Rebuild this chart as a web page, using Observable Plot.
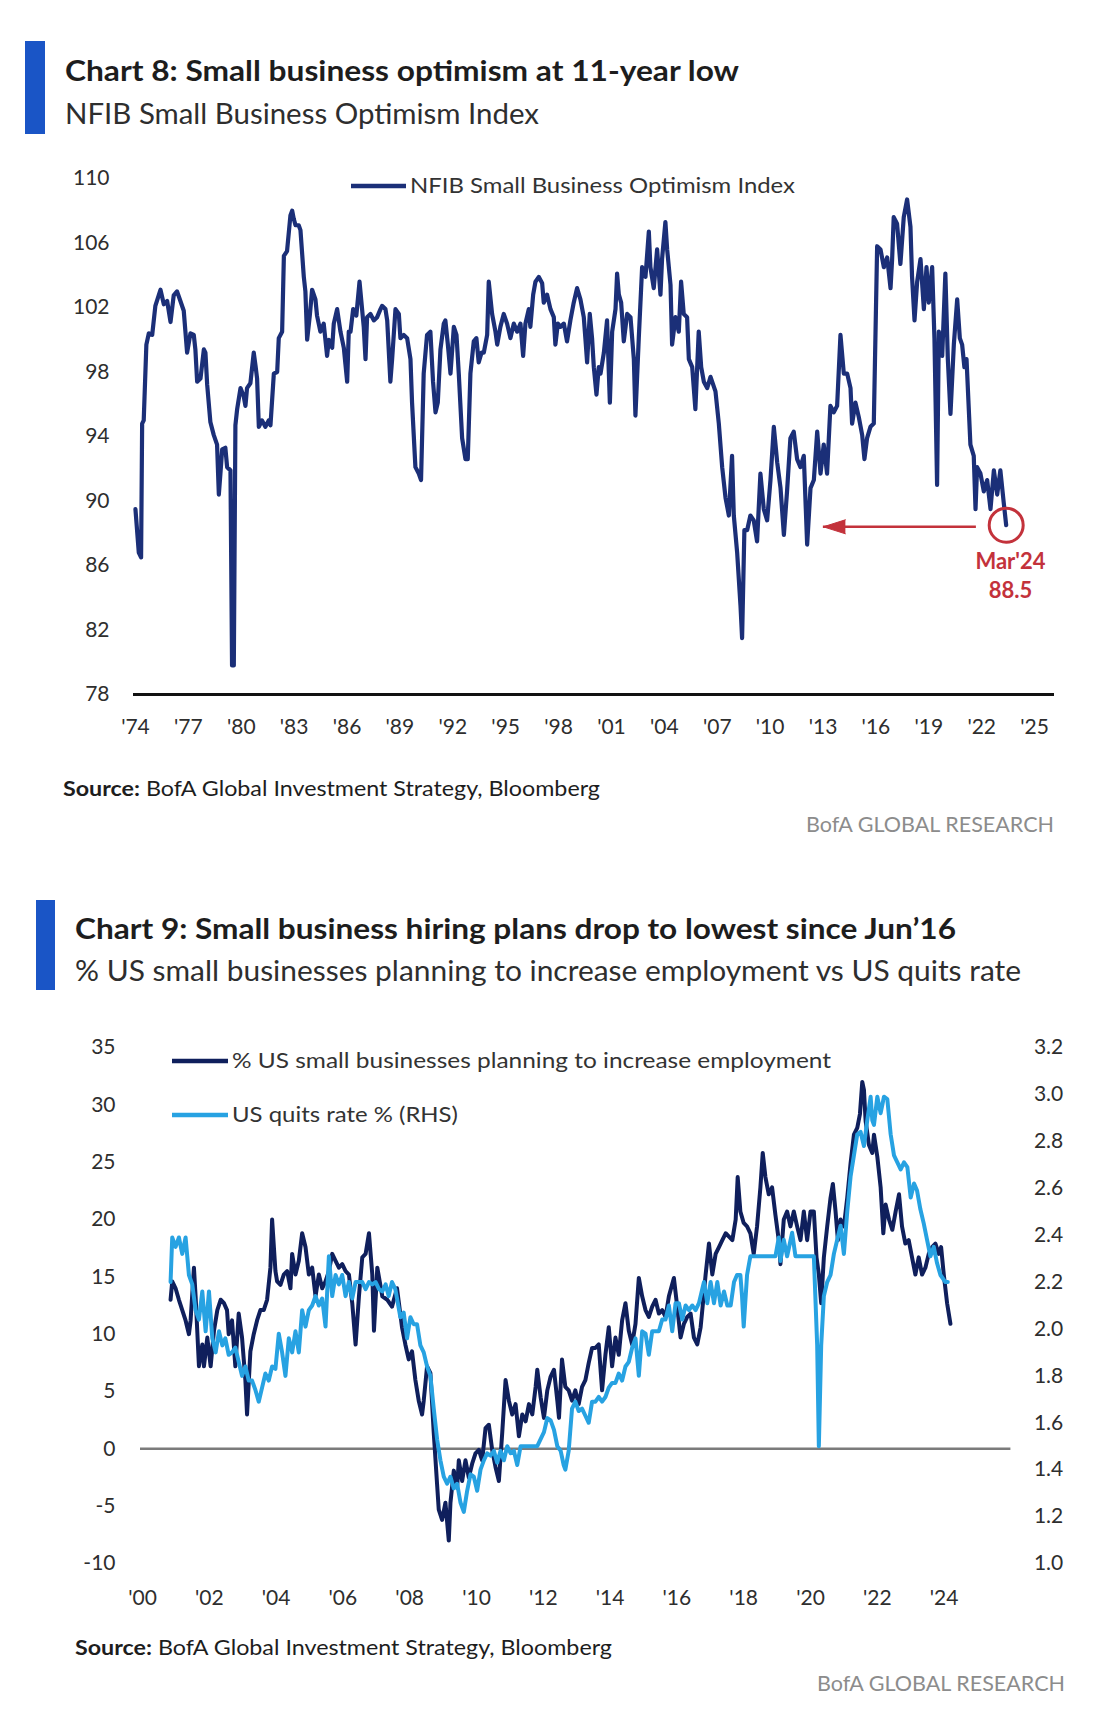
<!DOCTYPE html>
<html><head><meta charset="utf-8">
<script src="https://cdn.jsdelivr.net/npm/d3@7"></script>
<script src="https://cdn.jsdelivr.net/npm/@observablehq/plot@0.6"></script>
<style>
html,body{margin:0;padding:0;background:#fff;}
#page{position:relative;width:1100px;height:1709px;overflow:hidden;font-family:Lato,"Open Sans",sans-serif;background:#fff;}
</style></head>
<body><div id="page"></div>
<script>
// ---------- Chart 8 data: NFIB Small Business Optimism Index [decimal year, index] ----------
const nfibSeries = [
[1974.77,89.5],[1974.96,86.8],[1975.09,86.5],[1975.15,94.8],[1975.24,95.0],[1975.39,99.7],[1975.53,100.4],[1975.72,100.3],[1975.90,102.1],[1976.19,103.1],[1976.38,102.2],[1976.57,102.4],[1976.76,101.1],[1976.94,102.75],[1977.13,103.0],[1977.32,102.4],[1977.51,101.8],[1977.70,99.2],[1977.89,100.4],[1978.08,100.3],[1978.17,99.4],[1978.27,97.4],[1978.46,97.6],[1978.65,99.4],[1978.74,99.2],[1978.84,97.2],[1979.02,94.9],[1979.21,94.1],[1979.40,93.5],[1979.50,90.4],[1979.59,91.7],[1979.69,93.2],[1979.87,93.3],[1979.97,92.1],[1980.16,91.9],[1980.25,79.8],[1980.35,79.8],[1980.44,94.7],[1980.54,95.7],[1980.73,97.0],[1980.91,96.5],[1981.01,95.9],[1981.10,97.0],[1981.29,97.3],[1981.48,99.2],[1981.58,98.4],[1981.67,97.6],[1981.77,94.6],[1981.95,95.0],[1982.14,94.6],[1982.33,95.0],[1982.43,94.7],[1982.62,97.9],[1982.81,98.0],[1982.90,100.1],[1983.09,100.5],[1983.19,105.2],[1983.37,105.5],[1983.56,107.7],[1983.66,108.0],[1983.75,107.5],[1983.85,107.1],[1984.03,107.1],[1984.13,106.8],[1984.32,103.9],[1984.41,103.0],[1984.51,100.0],[1984.66,101.5],[1984.79,103.1],[1984.98,102.5],[1985.07,101.5],[1985.26,100.5],[1985.45,101.0],[1985.64,99.0],[1985.74,100.0],[1985.93,99.5],[1986.02,101.0],[1986.21,101.9],[1986.40,100.5],[1986.59,99.5],[1986.68,98.5],[1986.78,97.4],[1986.87,100.5],
[1986.97,100.5],[1987.12,101.9],[1987.30,101.5],[1987.48,103.6],[1987.72,100.8],[1987.82,98.8],[1987.91,101.4],[1988.10,101.6],[1988.29,101.2],[1988.48,101.4],[1988.67,101.9],[1988.76,102.1],[1988.95,101.9],[1989.05,101.2],[1989.23,97.4],[1989.33,98.8],[1989.52,101.9],[1989.71,101.6],[1989.80,100.1],[1989.99,100.3],[1990.18,100.1],[1990.37,98.8],[1990.46,96.1],[1990.65,92.1],[1990.84,91.7],[1990.97,91.3],[1991.12,97.9],[1991.31,100.3],[1991.50,100.5],[1991.65,97.4],[1991.79,95.5],[1991.92,96.1],[1992.07,99.4],[1992.26,101.0],[1992.35,101.2],[1992.49,99.7],[1992.64,97.9],[1992.83,100.8],[1992.98,100.3],[1993.11,97.9],[1993.30,93.9],[1993.49,92.6],[1993.62,92.6],[1993.77,97.9],[1993.96,99.9],[1994.11,100.1],[1994.24,98.6],[1994.40,99.2],[1994.53,99.2],[1994.72,100.3],[1994.81,103.6],[1995.00,101.6],[1995.19,100.5],[1995.29,99.7],[1995.47,100.8],[1995.66,101.6],[1995.85,101.0],[1996.04,100.1],[1996.23,101.0],[1996.42,100.5],[1996.61,101.0],[1996.76,99.0],[1996.89,101.0],[1997.08,101.9],[1997.17,100.8],[1997.33,102.8],[1997.46,103.6],[1997.65,103.9],[1997.84,103.5],[1997.93,102.3],[1998.12,102.8],[1998.31,101.9],[1998.50,101.4],[1998.59,99.7],[1998.73,101.0],[1998.88,100.8],[1999.07,101.0],[1999.25,99.9],[1999.44,101.2],[1999.63,102.3],[1999.82,103.2],[2000.01,102.5],[2000.20,101.4],[2000.29,100.1],[2000.39,98.6],[2000.54,101.6],[2000.67,100.1],[2000.77,98.3],[2000.92,96.6],[2001.05,98.3],
[2001.15,97.9],[2001.34,99.2],[2001.52,101.2],[2001.68,96.1],[2001.81,100.5],[2002.00,101.9],[2002.09,104.1],[2002.19,102.8],[2002.32,102.3],[2002.47,99.9],[2002.66,101.6],[2002.85,101.4],[2003.04,98.8],[2003.13,95.3],[2003.32,100.1],[2003.51,104.5],[2003.70,103.9],[2003.89,106.7],[2003.98,104.5],[2004.17,103.2],[2004.36,105.6],[2004.55,102.8],[2004.64,105.0],[2004.83,107.3],[2004.93,105.6],[2005.12,103.4],[2005.21,99.7],[2005.40,101.4],[2005.59,100.5],[2005.72,103.6],[2005.87,101.6],[2006.06,101.4],[2006.16,98.8],[2006.35,98.3],[2006.53,95.7],[2006.72,100.5],[2006.86,98.3],[2007.01,97.4],[2007.20,97.0],[2007.39,97.7],[2007.67,96.8],[2007.86,94.8],[2008.05,92.1],[2008.24,90.2],[2008.43,89.1],[2008.61,92.8],[2008.71,89.1],[2008.90,86.8],[2009.09,83.5],[2009.18,81.5],[2009.31,88.2],[2009.47,88.2],[2009.65,89.1],[2009.84,88.8],[2010.03,87.5],[2010.22,91.7],[2010.41,89.5],[2010.60,88.8],[2010.79,91.3],[2010.98,94.6],[2011.17,92.4],[2011.36,90.8],[2011.55,87.9],[2011.73,90.6],[2011.92,93.9],[2012.11,94.3],[2012.30,92.6],[2012.49,92.1],[2012.68,92.8],[2012.87,87.3],[2013.06,90.8],[2013.25,91.3],[2013.44,94.3],[2013.63,91.7],[2013.81,93.5],[2014.00,91.7],[2014.19,95.9],[2014.38,95.5],[2014.57,95.9],[2014.76,100.3],[2014.95,97.9],
[2015.14,97.9],[2015.33,97.0],[2015.42,94.8],[2015.61,96.1],[2015.80,95.2],[2015.99,94.1],[2016.12,92.6],[2016.27,93.9],[2016.46,94.6],[2016.65,94.8],[2016.84,105.8],[2017.03,105.6],[2017.22,104.5],[2017.41,105.1],[2017.60,103.2],[2017.69,105.0],[2017.78,107.6],[2017.97,107.2],[2018.16,104.7],[2018.35,107.6],[2018.54,108.7],[2018.73,107.0],[2018.82,103.9],[2018.96,101.2],[2019.11,103.6],[2019.30,105.0],[2019.49,101.9],[2019.64,104.5],[2019.77,102.3],[2019.96,104.5],[2020.09,100.1],[2020.24,91.0],[2020.34,100.5],[2020.53,99.0],[2020.71,104.1],[2020.85,98.8],[2021.00,95.4],[2021.19,99.7],[2021.38,102.5],[2021.53,100.1],[2021.66,99.7],[2021.79,98.3],[2021.91,98.8],[2022.13,93.5],[2022.32,92.8],[2022.42,89.5],[2022.51,92.1],[2022.70,91.7],[2022.89,90.6],[2023.08,91.3],[2023.27,89.5],[2023.46,91.9],[2023.65,90.4],[2023.83,91.9],[2024.02,89.9],[2024.16,88.5]
];
const nfibYTicks = [78, 82, 86, 90, 94, 98, 102, 106, 110];
const nfibXTicks = [1974, 1977, 1980, 1983, 1986, 1989, 1992, 1995, 1998, 2001, 2004, 2007, 2010, 2013, 2016, 2019, 2022, 2025];
const nfibXDomain = [1974.66, 2026.9];
const nfibYDomain = [78, 110];
// annotation: latest reading
const nfibLatest = [{date: 2024.16, value: 88.5, label: "Mar'24", labelDate: 2024.40, labelValue: 86.2, valueLabelValue: 84.4}];
const nfibArrow = [{from: 2022.47, to: 2013.79, value: 88.4}];

// ---------- Chart 9 data ----------
const hiringSeries = [
[2000.84,13.0],[2000.89,14.6],[2000.99,14.0],[2001.09,13.0],[2001.19,12.1],[2001.29,11.2],[2001.39,10.0],[2001.44,11.2],[2001.54,15.8],[2001.59,13.3],[2001.69,7.2],[2001.79,9.1],[2001.84,7.2],[2001.94,9.7],[2002.04,7.2],[2002.14,10.3],[2002.24,12.1],[2002.34,13.0],[2002.44,12.7],[2002.53,12.1],[2002.58,10.0],[2002.68,11.2],[2002.78,7.2],[2002.88,11.8],[2002.98,9.7],[2003.08,6.0],[2003.13,3.0],[2003.23,8.5],[2003.33,10.0],[2003.43,11.2],[2003.53,12.1],[2003.63,12.1],[2003.73,13.0],[2003.83,15.8],[2003.88,20.0],[2003.98,15.5],[2004.03,14.6],[2004.13,14.3],[2004.23,15.2],[2004.33,15.5],[2004.43,14.0],[2004.48,17.0],[2004.58,15.2],[2004.68,16.4],[2004.78,18.8],[2004.88,17.6],[2004.98,15.2],[2005.08,15.8],[2005.18,13.3],[2005.28,15.2],[2005.38,14.0],[2005.48,14.6],[2005.58,15.5],[2005.68,17.0],[2005.78,16.4],[2005.88,15.8],[2005.98,16.1],[2006.08,15.5],[2006.18,15.2],[2006.28,12.7],[2006.38,9.1],[2006.48,13.3],[2006.58,16.7],[2006.68,17.0],[2006.78,18.8],[2006.88,15.2],[2006.93,10.3],[2007.03,15.8],[2007.18,13.3],[2007.33,13.0],[2007.47,12.4],[2007.62,14.0],
[2007.77,10.6],[2007.87,9.1],[2007.97,7.8],[2008.07,8.5],[2008.17,6.0],[2008.27,4.2],[2008.37,3.0],[2008.42,4.2],[2008.52,7.2],[2008.62,6.6],[2008.72,1.4],[2008.82,-3.1],[2008.87,-5.3],[2008.97,-6.2],[2009.07,-4.7],[2009.17,-8.0],[2009.22,-4.7],[2009.32,-1.9],[2009.42,-3.4],[2009.47,-1.0],[2009.57,-2.8],[2009.67,-1.0],[2009.77,-2.5],[2009.87,-1.3],[2009.97,-0.4],[2010.07,-0.1],[2010.17,-1.0],[2010.27,1.8],[2010.37,2.1],[2010.47,-0.1],[2010.57,-1.6],[2010.67,-2.8],[2010.77,1.4],[2010.87,6.0],[2010.97,4.2],[2011.07,3.0],[2011.17,3.9],[2011.27,1.1],[2011.37,3.0],[2011.47,2.4],[2011.57,3.9],[2011.67,3.0],[2011.77,5.4],[2011.82,6.9],[2011.92,4.5],[2012.02,2.7],[2012.12,5.1],[2012.22,6.3],[2012.32,6.9],[2012.42,4.2],[2012.47,2.7],[2012.56,7.8],[2012.66,5.4],[2012.76,5.1],[2012.86,4.2],[2012.96,5.1],[2013.06,3.9],[2013.16,5.4],[2013.26,6.0],[2013.36,7.5],[2013.46,8.8],[2013.56,8.8],[2013.66,9.1],[2013.76,5.1],[2013.86,8.2],[2013.96,10.6],[2014.06,7.2],[2014.16,9.7],[2014.26,8.2],[2014.36,11.2],[2014.46,12.7],[2014.56,10.3],[2014.66,9.1],[2014.76,10.9],[2014.86,14.9],[2014.96,13.3],[2015.06,12.1],[2015.16,11.5],[2015.26,12.4],[2015.36,13.0],[2015.46,11.8],[2015.56,12.1],[2015.66,11.5],[2015.76,13.3],[2015.91,14.9],[2016.01,12.4],[2016.11,9.7],[2016.21,10.9],[2016.31,11.5],[2016.41,11.8],[2016.51,9.7],[2016.61,9.1],[2016.71,10.6],
[2016.76,12.1],[2016.86,15.2],[2016.96,17.9],[2017.06,15.2],[2017.16,17.0],[2017.26,17.6],[2017.36,18.2],[2017.46,18.8],[2017.56,18.5],[2017.66,18.2],[2017.76,20.0],[2017.82,23.7],[2017.90,20.7],[2018.00,19.7],[2018.10,19.4],[2018.20,18.8],[2018.30,17.0],[2018.40,19.4],[2018.50,22.8],[2018.57,25.8],[2018.65,23.7],[2018.75,22.2],[2018.85,22.8],[2018.95,20.4],[2019.05,18.2],[2019.10,16.1],[2019.20,20.0],[2019.30,20.7],[2019.40,19.4],[2019.50,20.7],[2019.60,19.4],[2019.70,18.2],[2019.80,20.7],[2019.90,18.2],[2020.00,20.7],[2020.10,20.7],[2020.18,16.7],[2020.25,15.2],[2020.32,12.7],[2020.40,16.7],[2020.50,19.4],[2020.60,21.9],[2020.67,23.1],[2020.75,20.7],[2020.82,18.2],[2020.90,20.0],[2021.00,19.4],[2021.10,21.9],[2021.20,24.9],[2021.30,27.4],[2021.40,28.0],[2021.48,29.2],[2021.55,32.0],[2021.60,31.3],[2021.65,28.6],[2021.75,26.5],[2021.85,25.8],[2021.90,27.4],[2022.00,25.5],[2022.10,22.8],[2022.18,18.8],[2022.25,21.3],[2022.35,20.0],[2022.45,19.1],[2022.55,20.7],[2022.65,22.2],[2022.74,19.4],[2022.84,17.9],[2022.94,18.2],[2023.04,16.7],[2023.14,15.2],[2023.24,16.7],[2023.34,15.2],[2023.44,15.8],[2023.54,17.0],[2023.64,17.6],[2023.74,17.9],[2023.84,17.0],[2023.91,17.6],[2023.99,15.2],[2024.09,12.7],[2024.19,10.9]
];
const quitsSeries = [
[2000.84,2.20],[2000.89,2.39],[2000.99,2.35],[2001.09,2.39],[2001.19,2.32],[2001.29,2.39],[2001.39,2.23],[2001.49,2.19],[2001.59,2.08],[2001.69,2.04],[2001.79,2.16],[2001.89,1.99],[2001.99,2.16],[2002.09,1.96],[2002.19,1.90],[2002.29,1.99],[2002.39,1.93],[2002.48,1.96],[2002.58,1.89],[2002.68,1.90],[2002.78,1.92],[2002.88,1.86],[2002.98,1.80],[2003.08,1.84],[2003.18,1.78],[2003.28,1.78],[2003.38,1.74],[2003.48,1.69],[2003.58,1.75],[2003.68,1.81],[2003.78,1.78],[2003.88,1.84],[2003.98,1.83],[2004.08,1.98],[2004.18,1.90],[2004.28,1.80],[2004.38,1.96],[2004.48,1.90],[2004.58,1.99],[2004.68,1.90],[2004.78,2.08],[2004.88,2.01],[2004.98,2.08],[2005.08,2.10],[2005.18,2.14],[2005.28,2.10],[2005.38,2.13],[2005.48,2.01],[2005.58,2.31],[2005.68,2.14],[2005.78,2.23],[2005.88,2.19],[2005.98,2.23],[2006.08,2.14],[2006.18,2.20],[2006.28,2.13],[2006.38,2.20],[2006.48,2.20],[2006.58,2.20],[2006.68,2.17],[2006.78,2.20],[2006.88,2.19],[2006.98,2.20],[2007.08,2.17],[2007.18,2.16],[2007.28,2.19],[2007.37,2.14],[2007.47,2.20],[2007.57,2.17],
[2007.72,2.05],[2007.82,2.07],[2007.92,1.96],[2008.02,2.05],[2008.12,2.02],[2008.22,2.02],[2008.32,1.93],[2008.42,1.90],[2008.52,1.84],[2008.62,1.80],[2008.72,1.66],[2008.82,1.53],[2008.92,1.44],[2009.02,1.37],[2009.12,1.34],[2009.22,1.37],[2009.32,1.32],[2009.42,1.34],[2009.52,1.26],[2009.62,1.22],[2009.72,1.31],[2009.82,1.38],[2009.92,1.37],[2010.02,1.31],[2010.12,1.40],[2010.22,1.44],[2010.32,1.47],[2010.42,1.46],[2010.52,1.48],[2010.62,1.43],[2010.72,1.48],[2010.82,1.44],[2010.92,1.50],[2011.02,1.47],[2011.12,1.48],[2011.22,1.42],[2011.32,1.50],[2011.42,1.50],[2011.62,1.50],[2011.82,1.50],[2012.02,1.56],[2012.12,1.62],[2012.22,1.61],[2012.32,1.57],[2012.42,1.50],[2012.52,1.48],[2012.61,1.42],[2012.66,1.40],[2012.76,1.48],[2012.86,1.66],[2012.96,1.69],[2013.06,1.65],[2013.16,1.66],[2013.26,1.63],[2013.36,1.60],[2013.46,1.69],[2013.56,1.69],[2013.66,1.71],[2013.76,1.69],[2013.86,1.71],[2013.96,1.75],[2014.06,1.77],[2014.16,1.77],[2014.26,1.81],[2014.36,1.78],[2014.46,1.84],[2014.56,1.86],[2014.66,1.92],[2014.76,1.96],[2014.86,1.80],[2014.96,1.99],[2015.06,1.98],[2015.16,1.89],[2015.26,1.99],[2015.36,1.99],[2015.46,1.99],[2015.56,2.04],[2015.66,2.04],[2015.76,2.10],[2015.86,1.99],[2015.96,2.11],[2016.06,2.11],[2016.16,2.04],[2016.26,2.10],[2016.36,2.08],[2016.46,2.10],[2016.56,2.08],[2016.66,2.11],
[2016.81,2.20],[2016.91,2.11],[2017.01,2.20],[2017.11,2.11],[2017.21,2.20],[2017.31,2.10],[2017.41,2.16],[2017.51,2.10],[2017.61,2.10],[2017.71,2.20],[2017.80,2.23],[2017.90,2.23],[2017.95,2.14],[2018.00,2.01],[2018.10,2.23],[2018.20,2.31],[2018.40,2.31],[2018.60,2.31],[2018.80,2.31],[2018.95,2.31],[2019.05,2.39],[2019.10,2.29],[2019.20,2.38],[2019.30,2.31],[2019.45,2.41],[2019.55,2.31],[2019.70,2.31],[2019.90,2.31],[2020.10,2.31],[2020.20,1.93],[2020.25,1.50],[2020.32,1.93],[2020.40,2.14],[2020.50,2.20],[2020.60,2.23],[2020.70,2.32],[2020.80,2.38],[2020.90,2.44],[2021.00,2.32],[2021.10,2.50],[2021.20,2.65],[2021.30,2.74],[2021.40,2.83],[2021.50,2.84],[2021.60,2.78],[2021.70,2.89],[2021.80,2.99],[2021.85,2.89],[2021.90,2.87],[2022.00,2.99],[2022.10,2.92],[2022.20,2.99],[2022.30,2.98],[2022.40,2.83],[2022.50,2.74],[2022.60,2.71],[2022.70,2.68],[2022.80,2.71],[2022.90,2.69],[2023.00,2.56],[2023.10,2.62],[2023.19,2.59],[2023.29,2.51],[2023.39,2.45],[2023.49,2.38],[2023.59,2.31],[2023.69,2.35],[2023.79,2.28],[2023.89,2.23],[2024.04,2.20],[2024.11,2.20]
];
const leftTicks9 = [-10, -5, 0, 5, 10, 15, 20, 25, 30, 35];
const rightTicks9 = [1.0, 1.2, 1.4, 1.6, 1.8, 2.0, 2.2, 2.4, 2.6, 2.8, 3.0, 3.2];
const xTicks9 = [2000, 2002, 2004, 2006, 2008, 2010, 2012, 2014, 2016, 2018, 2020, 2022, 2024];
const xDomain9 = [1999.94, 2026.0];
const leftDomain9 = [-10, 35];
const rightDomain9 = [1.0, 3.2];

// ---------- styling ----------
const NAVY8 = "#1b2f78", NAVY9 = "#0f1f5c", LIGHT9 = "#27a2e2", RED = "#c3323b", BAR = "#1a55c6";
const TICK = "#2e2e2e";
const yearLabel = d => "'" + String(d).slice(2);
const page = document.getElementById("page");

// Chart 8
const c8 = Plot.plot({
  width: 1100, height: 620,
  marginLeft: 133, marginRight: 46, marginTop: 38, marginBottom: 66,
  style: {fontFamily: "Lato, 'Open Sans', sans-serif", fontSize: "21px", color: TICK, background: "transparent", overflow: "visible"},
  x: {domain: nfibXDomain},
  y: {domain: nfibYDomain},
  marks: [
    Plot.axisY({ticks: nfibYTicks, tickSize: 0, tickPadding: 24, tickFormat: d => String(d)}),
    Plot.axisX({ticks: nfibXTicks, tickSize: 0, tickPadding: 25, dx: 13.6, tickFormat: yearLabel}),
    Plot.ruleY([nfibYDomain[0]], {stroke: "#111", strokeWidth: 3}),
    Plot.line(nfibSeries, {x: d => d[0], y: d => d[1], stroke: NAVY8, strokeWidth: 4.2, strokeLinejoin: "round"}),
    Plot.ruleY(nfibArrow, {y: "value", x1: "from", x2: "to", stroke: RED, strokeWidth: 2.6}),
    Plot.vector(nfibArrow, {x: "to", y: "value", length: 22, rotate: -90, shape: "spike", r: 7, anchor: "end", fill: RED, stroke: RED, strokeWidth: 1}),
    Plot.dot(nfibLatest, {x: "date", y: "value", r: 17, stroke: RED, strokeWidth: 3, fill: "none"}),
    Plot.text(nfibLatest, {x: "labelDate", y: "labelValue", text: "label", fill: RED, fontWeight: "bold", fontSize: 22}),
    Plot.text(nfibLatest, {x: "labelDate", y: "valueLabelValue", text: d => String(d.value), fill: RED, fontWeight: "bold", fontSize: 22})
  ]
});
c8.style.position = "absolute"; c8.style.left = "0px"; c8.style.top = "140px";
page.appendChild(c8);

// Chart 9 (dual axis: quits rate mapped onto left scale)
const rmap = d3.scaleLinear().domain(rightDomain9).range(leftDomain9);
const c9 = Plot.plot({
  width: 1100, height: 620,
  marginLeft: 140, marginRight: 89.6, marginTop: 47, marginBottom: 57,
  style: {fontFamily: "Lato, 'Open Sans', sans-serif", fontSize: "21px", color: TICK, background: "transparent", overflow: "visible"},
  x: {domain: xDomain9},
  y: {domain: leftDomain9},
  marks: [
    Plot.axisY({ticks: leftTicks9, tickSize: 0, tickPadding: 25, tickFormat: d => String(d)}),
    Plot.axisY({ticks: rightTicks9.map(rmap), anchor: "right", tickSize: 0, tickPadding: 23, tickFormat: v => rmap.invert(v).toFixed(1)}),
    Plot.axisX({ticks: xTicks9, tickSize: 0, tickPadding: 27, tickFormat: yearLabel}),
    Plot.ruleY([0], {stroke: "#7b7b7b", strokeWidth: 2.5}),
    Plot.line(hiringSeries, {x: d => d[0], y: d => d[1], stroke: NAVY9, strokeWidth: 4, strokeLinejoin: "round"}),
    Plot.line(quitsSeries, {x: d => d[0], y: d => rmap(d[1]), stroke: LIGHT9, strokeWidth: 4, strokeLinejoin: "round"})
  ]
});
c9.style.position = "absolute"; c9.style.left = "0px"; c9.style.top = "1000px";
page.appendChild(c9);

// Overlay: titles, subtitles, legends, sources
const ov = d3.select(page).append("svg")
  .attr("width", 1100).attr("height", 1709)
  .style("position", "absolute").style("left", "0px").style("top", "0px")
  .style("font-family", "Lato, 'Open Sans', sans-serif");

function label(x, y, str, o = {}) {
  const t = ov.append("text").attr("x", x).attr("y", y)
    .attr("font-size", o.size || 21).attr("font-weight", o.weight || 400)
    .attr("fill", o.fill || "#1d1d1d").attr("text-anchor", o.anchor || "start");
  if (o.bold) { t.append("tspan").attr("font-weight", 700).text(o.bold); }
  t.append("tspan").text(str);
  if (o.width) t.attr("textLength", o.width).attr("lengthAdjust", "spacingAndGlyphs");
  return t;
}
function legendLine(x1, x2, y, color) {
  ov.append("line").attr("x1", x1).attr("x2", x2).attr("y1", y).attr("y2", y)
    .attr("stroke", color).attr("stroke-width", 4.5);
}

// Chart 8 header
ov.append("rect").attr("x", 25).attr("y", 41).attr("width", 20).attr("height", 93).attr("fill", BAR);
label(65, 81, "Chart 8: Small business optimism at 11-year low", {size: 29, weight: 700, width: 674});
label(65, 124, "NFIB Small Business Optimism Index", {size: 29, weight: 400, fill: "#2e2e2e", width: 474});
legendLine(351, 406, 186, NAVY8);
label(410, 193, "NFIB Small Business Optimism Index", {size: 21, fill: "#333", width: 385});
label(63, 796, " BofA Global Investment Strategy, Bloomberg", {bold: "Source:", size: 21, width: 537});
label(1054, 832, "BofA GLOBAL RESEARCH", {size: 22, fill: "#8c8c8c", anchor: "end", width: 248});

// Chart 9 header
ov.append("rect").attr("x", 36).attr("y", 900).attr("width", 19).attr("height", 90).attr("fill", BAR);
label(75, 939, "Chart 9: Small business hiring plans drop to lowest since Jun\u201916", {size: 29, weight: 700, width: 881});
label(75, 981, "% US small businesses planning to increase employment vs US quits rate", {size: 29, weight: 400, fill: "#2e2e2e", width: 946});
legendLine(172, 228, 1061, NAVY9);
label(232, 1068, "% US small businesses planning to increase employment", {size: 21, fill: "#333", width: 599});
legendLine(172, 228, 1115, LIGHT9);
label(232, 1122, "US quits rate % (RHS)", {size: 21, fill: "#333", width: 226});
label(75, 1655, " BofA Global Investment Strategy, Bloomberg", {bold: "Source:", size: 21, width: 537});
label(1065, 1691, "BofA GLOBAL RESEARCH", {size: 22, fill: "#8c8c8c", anchor: "end", width: 248});
</script>
</body></html>
